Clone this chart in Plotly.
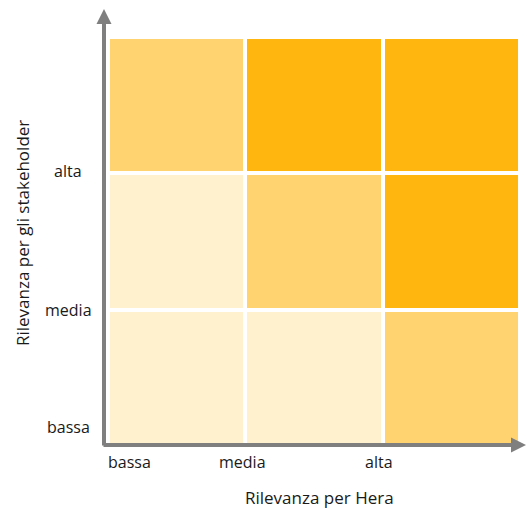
import plotly.graph_objects as go

# Data
levels = ["bassa", "media", "alta"]
# matrix levels: rows bottom -> top (stakeholder), cols left -> right (Hera)
z_matrix = [
    [0, 0, 1],
    [0, 1, 2],
    [1, 2, 2],
]
x_tick_pos = [0.16, 0.98, 1.97]
y_tick_pos = [0.14, 1.0, 2.02]
x_title = "Rilevanza per Hera"
y_title = "Rilevanza per gli stakeholder"

cell_colors = ["#FFF1CD", "#FFD470", "#FFB70F"]

W, H = 527, 509
ML, MR, MT, MB = 108, 7, 37, 63
pw = W - ML - MR
ph = H - MT - MB

def px_x(p):
    return (p - ML) / pw

def px_y(p):
    return (H - MB - p) / ph

colorscale = [
    [0.0, cell_colors[0]], [0.3333, cell_colors[0]],
    [0.3333, cell_colors[1]], [0.6667, cell_colors[1]],
    [0.6667, cell_colors[2]], [1.0, cell_colors[2]],
]

fig = go.Figure(go.Heatmap(
    z=z_matrix,
    x=[0.5, 1.5, 2.5],
    y=[0.5, 1.5, 2.5],
    colorscale=colorscale,
    zmin=-0.5, zmax=2.5,
    showscale=False,
    xgap=4, ygap=4,
    hoverinfo="skip",
))

tick_font = dict(family="Open Sans, Noto Sans, sans-serif", size=16, color="#1a1a1a")
title_font = dict(family="Open Sans, Noto Sans, sans-serif", size=17, color="#1a1a1a")
ann = []
for lab, xv in zip(levels, x_tick_pos):
    ann.append(dict(x=xv, y=px_y(462), xref="x", yref="paper", text=lab,
                    showarrow=False, font=tick_font, xanchor="center", yanchor="middle"))
for lab, yv in zip(levels, y_tick_pos):
    ann.append(dict(x=px_x(68), y=yv, xref="paper", yref="y", text=lab,
                    showarrow=False, font=tick_font, xanchor="center", yanchor="middle"))
ann.append(dict(x=px_x(319), y=px_y(498), xref="paper", yref="paper", text=x_title,
                showarrow=False, font=title_font, xanchor="center", yanchor="middle"))
ann.append(dict(x=px_x(22), y=px_y(233), xref="paper", yref="paper", text=y_title,
                showarrow=False, font=title_font, textangle=-90, xanchor="center", yanchor="middle"))
# axis arrows
ann.append(dict(x=px_x(104), y=px_y(9), xref="paper", yref="paper",
                ax=0, ay=438, axref="pixel", ayref="pixel", text="",
                showarrow=True, arrowhead=2, arrowsize=0.75, arrowwidth=4,
                arrowcolor="#7F7F7F", standoff=0))
ann.append(dict(x=px_x(527), y=px_y(445), xref="paper", yref="paper",
                ax=-425, ay=0, axref="pixel", ayref="pixel", text="",
                showarrow=True, arrowhead=2, arrowsize=0.75, arrowwidth=4,
                arrowcolor="#7F7F7F", standoff=0))

fig.update_layout(
    width=W, height=H,
    margin=dict(l=ML, r=MR, t=MT, b=MB),
    paper_bgcolor="white", plot_bgcolor="white",
    xaxis=dict(range=[0, 3], visible=False, fixedrange=True),
    yaxis=dict(range=[0, 3], visible=False, fixedrange=True),
    annotations=ann,
    showlegend=False,
)

fig.write_html("out.html")
